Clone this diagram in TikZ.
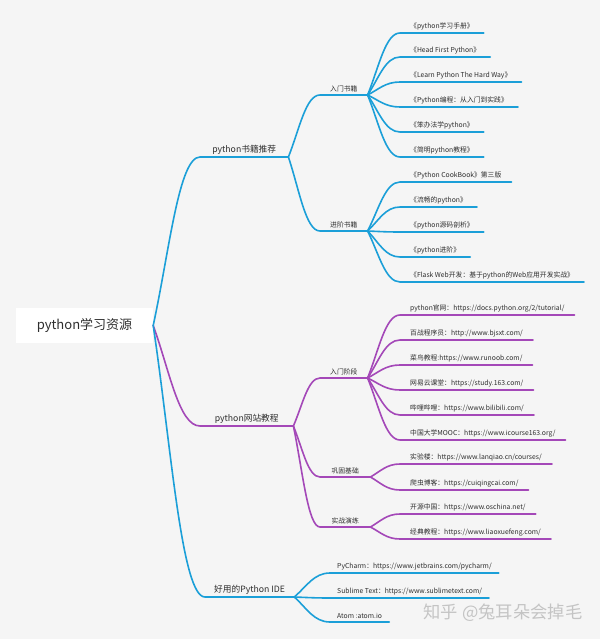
\documentclass[tikz,border=0pt]{standalone}
\usepackage{fontspec}
\setmainfont{Noto Sans CJK SC}
\usetikzlibrary{calc}
\definecolor{bgc}{HTML}{F5F5F5}
\definecolor{bl}{HTML}{1B9FD8}
\definecolor{pu}{HTML}{A448B8}
\definecolor{txt}{HTML}{2E2E2E}
\definecolor{wmc}{HTML}{C4C4C4}
\tikzset{
  lab/.style={anchor=south west, inner ysep=3pt, inner xsep=10pt, text=txt, font=\fontsize{6.8}{8}\selectfont},
  idelab/.style={lab, inner xsep=7pt},
  lvone/.style={anchor=south west, inner ysep=2.5pt, inner xsep=9pt, text=txt, font=\fontsize{8.7}{10}\selectfont},
  rootbox/.style={fill=white, text=txt, font=\fontsize{13}{15}\selectfont, minimum width=137pt, minimum height=35pt},
  link/.style={line width=1.6pt, line cap=round}
}
\newcommand\conn[3]{\draw[link,#1] let \p1=(#2), \p2=(#3.south west) in (\p1) .. controls ({\x1+0.35*(\x2-\x1)},{\y1+0.45*(\y2-\y1)}) and ({\x1+0.55*(\x2-\x1)},\y2) .. (\p2) -- (#3.south east);}
\begin{document}
\begin{tikzpicture}[x=1pt,y=-1pt]
\useasboundingbox (0,0) rectangle (600,639);
\fill[bgc] (0,0) rectangle (600,639);

% root
\node[rootbox] (root) at (84.5,325.5) {python学习资源};

% level 1
\node[lvone, minimum width=88pt] (books) at (200,157) {python书籍推荐};
\node[lvone, minimum width=93pt] (web) at (200,426) {python网站教程};
\node[lvone] (ide) at (205,597) {好用的Python IDE};

% level 2
\node[lab] (rumen) at (320,95) {入门书籍};
\node[lab] (jinjie) at (320,231) {进阶书籍};
\node[lab] (rmjd) at (320,378) {入门阶段};
\node[lab, minimum width=50pt] (gg) at (320,477) {巩固基础};
\node[lab, minimum width=50pt] (sz) at (320,527) {实战演练};

% book leaves
\node[lab] (b1) at (400,33) {《python学习手册》};
\node[lab] (b2) at (400,57) {《Head First Python》};
\node[lab] (b3) at (400,82) {《Learn Python The Hard Way》};
\node[lab] (b4) at (400,107) {《Python编程：从入门到实践》};
\node[lab] (b5) at (400,132) {《笨办法学python》};
\node[lab] (b6) at (400,157) {《简明python教程》};
\node[lab] (a1) at (400,182) {《Python CookBook》第三版};
\node[lab] (a2) at (400,207) {《流畅的python》};
\node[lab] (a3) at (400,232) {《python源码剖析》};
\node[lab] (a4) at (400,257) {《python进阶》};
\node[lab] (a5) at (400,282) {《Flask Web开发：基于python的Web应用开发实战》};

% web leaves
\node[lab] (w1) at (400,315) {python官网：https://docs.python.org/2/tutorial/};
\node[lab] (w2) at (400,340) {百战程序员：http://www.bjsxt.com/};
\node[lab] (w3) at (400,365) {菜鸟教程:https://www.runoob.com/};
\node[lab] (w4) at (400,390) {网易云课堂：https://study.163.com/};
\node[lab] (w5) at (400,415) {哔哩哔哩：https://www.bilibili.com/};
\node[lab] (w6) at (400,440) {中国大学MOOC：https://www.icourse163.org/};
\node[lab] (g1) at (400,464) {实验楼：https://www.lanqiao.cn/courses/};
\node[lab] (g2) at (400,490) {爬虫博客：https://cuiqingcai.com/};
\node[lab] (s1) at (400,514) {开源中国：https://www.oschina.net/};
\node[lab] (s2) at (400,539) {经典教程：https://www.liaoxuefeng.com/};

% IDE leaves
\node[idelab] (i1) at (330,573) {PyCharm：https://www.jetbrains.com/pycharm/};
\node[idelab] (i2) at (330,598) {Sublime Text：https://www.sublimetext.com/};
\node[idelab] (i3) at (330,622) {Atom :atom.io};

% connectors
\conn{bl}{root.east}{books}
\conn{pu}{root.east}{web}
\conn{bl}{root.east}{ide}

\conn{bl}{books.south east}{rumen}
\conn{bl}{books.south east}{jinjie}
\foreach \leaf in {b1,b2,b3,b4,b5,b6} {\conn{bl}{rumen.south east}{\leaf}}
\foreach \leaf in {a1,a2,a3,a4,a5} {\conn{bl}{jinjie.south east}{\leaf}}

\conn{pu}{web.south east}{rmjd}
\conn{pu}{web.south east}{gg}
\conn{pu}{web.south east}{sz}
\foreach \leaf in {w1,w2,w3,w4,w5,w6} {\conn{pu}{rmjd.south east}{\leaf}}
\foreach \leaf in {g1,g2} {\conn{pu}{gg.south east}{\leaf}}
\foreach \leaf in {s1,s2} {\conn{pu}{sz.south east}{\leaf}}

\foreach \leaf in {i1,i2,i3} {\conn{bl}{ide.south east}{\leaf}}

% watermark
\node[text=wmc, font=\fontsize{17.3}{19}\selectfont] (wm) at (503,613) {知乎 @兔耳朵会掉毛};
\end{tikzpicture}
\end{document}
